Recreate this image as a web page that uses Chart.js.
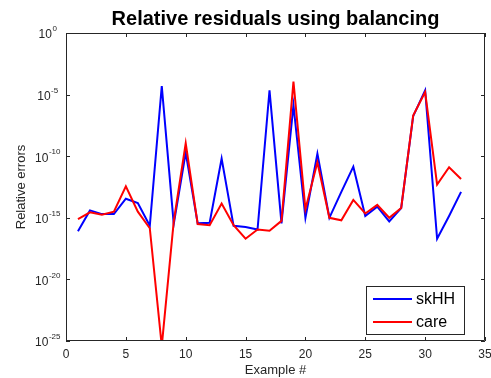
<!DOCTYPE html>
<html>
<head>
<meta charset="utf-8">
<script src="https://cdn.jsdelivr.net/npm/chart.js@4"></script>
<style>
  html, body { margin: 0; padding: 0; background: #fff; }
  #wrap { width: 491px; height: 378px; }
</style>
</head>
<body>
<div id="wrap"><canvas id="c"></canvas></div>
<script>
// Example # (x axis)
var examples = [1, 2, 3, 4, 5, 6, 7, 8, 9, 10, 11, 12, 13, 14, 15, 16, 17,
  18, 19, 20, 21, 22, 23, 24, 25, 26, 27, 28, 29, 30, 31, 32, 33];
// log10 of relative errors
var skhhLog = [-16.1, -14.4, -14.7, -14.7, -13.45, -13.8, -15.65, -4.3, -15.5, -9.7,
  -15.45, -15.4, -10.2, -15.65, -15.75, -15.95, -4.65, -15.45, -5.85, -15.0,
  -9.8, -15.0, -12.9, -10.85, -14.85, -14.1, -15.3, -14.2, -6.75, -4.65,
  -16.7, -14.85, -12.9];
var careLog = [-15.1, -14.55, -14.75, -14.5, -12.45, -14.5, -15.85, -25.4, -15.3, -8.95,
  -15.5, -15.6, -13.85, -15.6, -16.7, -15.95, -16.05, -15.25, -3.95, -14.3,
  -10.5, -15.0, -15.2, -13.55, -14.65, -13.95, -15.0, -14.2, -6.7, -4.8,
  -12.3, -10.9, -11.85];
var yTickExps = [0, -5, -10, -15, -20, -25];
var xTicks = [0, 5, 10, 15, 20, 25, 30, 35];

var seriesNames = ["skHH", "care"];
var seriesColors = ["#0000ff", "#ff0000"];

function toPoints(logs) {
  return examples.map(function (x, i) {
    return { x: x, y: Math.pow(10, logs[i]) };
  });
}

var INK = "#262626";
var FONT = "'Liberation Sans', Arial, sans-serif";

// MATLAB-like box, inward ticks, superscript y labels, legend box
var matlabAxes = {
  id: "matlabAxes",
  afterDatasetsDraw: function (chart) {
    var ctx = chart.ctx;
    var a = chart.chartArea;
    var xs = chart.scales.x;
    var ys = chart.scales.y;
    ctx.save();
    ctx.strokeStyle = INK;
    ctx.lineWidth = 1;
    ctx.beginPath();
    ctx.rect(a.left + 0.5, a.top + 0.5, a.right - a.left - 1, a.bottom - a.top - 1);
    ctx.stroke();

    ctx.beginPath();
    xTicks.forEach(function (v) {
      var px = Math.round(xs.getPixelForValue(v)) + 0.5;
      ctx.moveTo(px, a.bottom); ctx.lineTo(px, a.bottom - 4);
      ctx.moveTo(px, a.top); ctx.lineTo(px, a.top + 4);
    });
    yTickExps.forEach(function (e) {
      var py = Math.round(ys.getPixelForValue(Math.pow(10, e))) + 0.5;
      ctx.moveTo(a.left, py); ctx.lineTo(a.left + 4, py);
      ctx.moveTo(a.right, py); ctx.lineTo(a.right - 4, py);
    });
    ctx.stroke();

    // y tick labels 10^e, centred a bit left of the axis
    ctx.fillStyle = INK;
    ctx.textBaseline = "middle";
    ctx.textAlign = "left";
    yTickExps.forEach(function (e) {
      var py = ys.getPixelForValue(Math.pow(10, e));
      var sup = String(e);
      ctx.font = "8px " + FONT;
      var supW = ctx.measureText(sup).width;
      ctx.font = "12px " + FONT;
      var baseW = ctx.measureText("10").width;
      var x0 = 47.5 - (baseW + supW) / 2;
      ctx.fillText("10", x0, py + 2);
      ctx.font = "8px " + FONT;
      ctx.fillText(sup, x0 + baseW + 0.5, py - 4);
    });

    // legend
    var lx = 366, ly = 286, lw = 98, lh = 48;
    ctx.fillStyle = "#fff";
    ctx.fillRect(lx, ly, lw, lh);
    ctx.strokeStyle = INK;
    ctx.lineWidth = 1;
    ctx.strokeRect(lx + 0.5, ly + 0.5, lw, lh);
    ctx.font = "16px " + FONT;
    ctx.textAlign = "left";
    ctx.textBaseline = "middle";
    seriesNames.forEach(function (name, i) {
      var y = ly + 13 + i * 23;
      ctx.strokeStyle = seriesColors[i];
      ctx.lineWidth = 2;
      ctx.beginPath();
      ctx.moveTo(lx + 7, y); ctx.lineTo(lx + 46, y);
      ctx.stroke();
      ctx.fillStyle = "#000";
      ctx.fillText(name, lx + 50, y + 1);
    });
    ctx.restore();
  }
};

new Chart(document.getElementById("c"), {
  type: "line",
  data: {
    datasets: [
      {
        label: seriesNames[0],
        data: toPoints(skhhLog),
        borderColor: seriesColors[0],
        borderWidth: 2,
        pointRadius: 0,
        tension: 0,
        order: 1,
      },
      {
        label: seriesNames[1],
        data: toPoints(careLog),
        borderColor: seriesColors[1],
        borderWidth: 2,
        pointRadius: 0,
        tension: 0,
        order: 0,
      },
    ],
  },
  options: {
    responsive: true,
    maintainAspectRatio: false,
    animation: false,
    layout: { padding: { left: 0, right: 6, top: 0, bottom: 0 } },
    plugins: {
      legend: { display: false },
      tooltip: { enabled: false },
      title: {
        display: true,
        text: "Relative residuals using balancing",
        color: "#000",
        fullSize: false,
        font: { family: FONT, size: 20, weight: "bold", lineHeight: 1.2 },
        padding: { top: 7, bottom: 2 },
      },
    },
    scales: {
      x: {
        type: "linear",
        min: 0,
        max: 35,
        afterFit: function (s) {
          s.height = 37;
          s.paddingLeft = 0;
          s.paddingRight = 0;
        },
        afterBuildTicks: function (s) {
          s.ticks = xTicks.map(function (v) { return { value: v }; });
        },
        grid: { display: false, drawTicks: false },
        border: { display: false },
        ticks: { color: INK, font: { family: FONT, size: 12 }, padding: 6, maxRotation: 0 },
        title: {
          display: true,
          text: "Example #",
          color: INK,
          font: { family: FONT, size: 13 },
          padding: { top: 2, bottom: 0 },
        },
      },
      y: {
        type: "logarithmic",
        min: 1e-25,
        max: 1,
        afterFit: function (s) { s.width = 66; },
        grid: { display: false, drawTicks: false },
        border: { display: false },
        ticks: { display: false },
        title: {
          display: true,
          text: "Relative errors",
          color: INK,
          font: { family: FONT, size: 13 },
          padding: { top: 14 },
        },
      },
    },
  },
  plugins: [matlabAxes],
});
</script>
</body>
</html>
